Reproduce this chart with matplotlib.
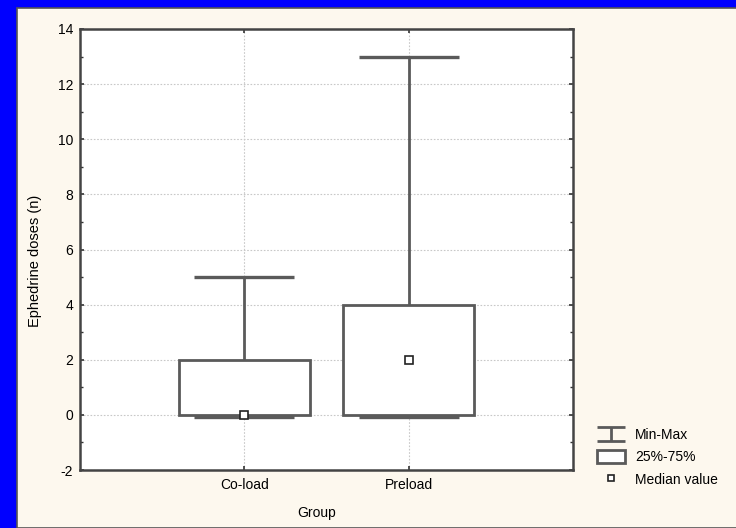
import numpy as np
from matplotlib import pyplot as plt
from matplotlib.patches import Rectangle
from matplotlib.lines import Line2D
from matplotlib.path import Path
from matplotlib.ticker import MultipleLocator
from matplotlib.transforms import ScaledTranslation

plt.rcParams['font.family'] = ['Liberation Sans', 'DejaVu Sans']
plt.rcParams['axes.unicode_minus'] = False

# summary statistics per group
groups = ['Co-load', 'Preload']
mins = [0, 0]
q1 = [0, 0]
medians = [0, 2]
q3 = [2, 4]
maxs = [5, 13]

cream = '#fdf8ee'
edge = '#5a5a5a'
fs = 10

fig = plt.figure(figsize=(7.36, 5.28), dpi=100, facecolor='#0000ff')
# cream panel inside the blue frame
fig.patches.append(Rectangle((17 / 736, 0), 1, 520 / 528, transform=fig.transFigure,
                             facecolor=cream, edgecolor='#555555', lw=1.2, zorder=-10))

ax = fig.add_axes([80 / 736, 58 / 528, 493 / 736, 441 / 528])
ax.set_facecolor('white')

x = np.arange(1, len(groups) + 1)
lo = np.array(mins)
hi = np.array(maxs)
mid = (lo + hi) / 2

# whiskers min-max with caps
eb = ax.errorbar(x, mid, yerr=[mid - lo, hi - mid], fmt='none', ecolor=edge, elinewidth=2,
                 capsize=36, capthick=2.4, zorder=2)
# push the lower caps a hair below the box edge
eb[1][0].set_transform(ax.transData + ScaledTranslation(0, -1.2 / 72, fig.dpi_scale_trans))
eb[1][0].set_zorder(2.5)

# interquartile boxes
ax.bar(x, np.array(q3) - np.array(q1), bottom=q1, width=0.8, facecolor='white',
       edgecolor=edge, linewidth=2, zorder=3)
# medians
ax.plot(x, medians, 's', mfc='white', mec='#222222', mew=1.2, ms=5.5, zorder=4,
        linestyle='none')

ax.set_xlim(0, 3)
ax.set_ylim(-2, 14)
ax.set_xticks(x)
ax.set_xticklabels(groups)
ax.yaxis.set_major_locator(MultipleLocator(2))
ax.yaxis.set_minor_locator(MultipleLocator(1))
ax.tick_params(which='both', direction='in', top=True, right=True, color='#333333',
               labelsize=fs)
ax.tick_params(which='major', length=3, width=1.2)
ax.tick_params(which='minor', length=2.5, width=1)
ax.tick_params(axis='x', pad=6)
ax.tick_params(axis='y', pad=5)
ax.grid(True, which='major', linestyle=(0, (1.5, 1.5)), color='#c8c8c8', lw=0.8)
ax.set_axisbelow(True)
for s in ax.spines.values():
    s.set_color('#444444')
    s.set_linewidth(1.8)

ax.set_xlabel('Group', fontsize=fs)
ax.set_ylabel('Ephedrine doses (n)', fontsize=10.5)
ax.xaxis.set_label_coords(0.48, -0.082)
ax.yaxis.set_label_coords(-0.077, 0.475)

# legend handles: I-shaped min-max symbol, box, median square
ibar = Path([(-1, 0.5), (1, 0.5), (0, 0.5), (0, -0.5), (-1, -0.5), (1, -0.5)],
            [Path.MOVETO, Path.LINETO, Path.MOVETO, Path.LINETO, Path.MOVETO, Path.LINETO])
h_range = Line2D([], [], marker=ibar, ms=20, mew=2, mec=edge, mfc='none', linestyle='none')
h_box = Rectangle((0, 0), 1, 1, facecolor='white', edgecolor=edge, lw=2)
h_med = Line2D([], [], marker='s', mfc='white', mec='#222222', mew=1.2, ms=4.5,
               linestyle='none')

fig.legend([h_range, h_box, h_med], ['Min-Max', '25%-75%', 'Median value'],
           loc='upper left', bbox_to_anchor=(597 / 736, 100 / 528), frameon=False,
           fontsize=fs, handlelength=2.0, handleheight=1.0, handletextpad=0.72,
           labelspacing=0.6, borderpad=0, borderaxespad=0)

fig.savefig('out.png', dpi=100, facecolor=fig.get_facecolor())
